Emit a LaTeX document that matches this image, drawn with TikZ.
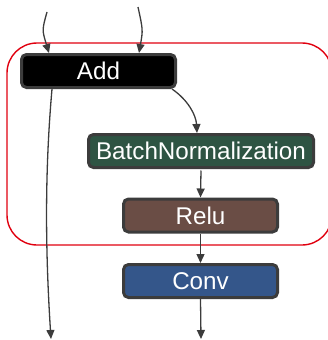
\documentclass[tikz,border=0pt]{standalone}
\usepackage{fontspec}
\setmainfont{Liberation Sans}
\usetikzlibrary{arrows.meta}
\definecolor{edgegray}{HTML}{3C3C3C}
\definecolor{bnfill}{HTML}{2E5443}
\definecolor{relufill}{HTML}{6A4D45}
\definecolor{convfill}{HTML}{34568A}
\definecolor{grpred}{HTML}{E0000F}
\tikzset{
  opbox/.style={draw=edgegray, line width=3pt, rounded corners=5pt, text=white,
    font=\fontsize{24.2}{27}\selectfont, minimum height=33pt, inner sep=0pt},
  link/.style={draw=edgegray, line width=1.3pt, -{Triangle[length=9pt,width=8pt]}},
}
\begin{document}
\begin{tikzpicture}[x=1pt,y=-1pt]
\useasboundingbox (0,0) rectangle (328,340);
\draw[grpred, line width=1.4pt, rounded corners=30pt] (7,43) rectangle (332,245);
\node[opbox, fill=black, minimum width=154pt] (add) at (98.5,71) {Add};
\node[opbox, fill=bnfill, minimum width=225pt] (bn) at (201,151) {BatchNormalization};
\node[opbox, fill=relufill, minimum width=154pt] (relu) at (200.5,215.5) {Relu};
\node[opbox, fill=convfill, minimum width=154pt] (conv) at (200.5,281) {Conv};
\coordinate (inA) at (47,12);
\coordinate (inB) at (138,7);
\coordinate (outA) at (51,339);
\coordinate (outB) at (201,339);
\draw[link] (inA) .. controls (42,30) .. (add.north west -| 49,0);
\draw[link] (inB) .. controls (143,30) .. (add.north west -| 139,0);
\draw[link] (add.south east -| 172,0) .. controls (188,100) and (196,115) .. (bn.north west -| 197,0);
\draw[link] (add.south west -| 52,0) .. controls (44,180) and (46,260) .. (outA);
\draw[link] (bn.south) ++(0,1.5) -- (relu.north);
\draw[link] (relu.south) -- (conv.north);
\draw[link] (conv.south) -- (outB);
\end{tikzpicture}
\end{document}
